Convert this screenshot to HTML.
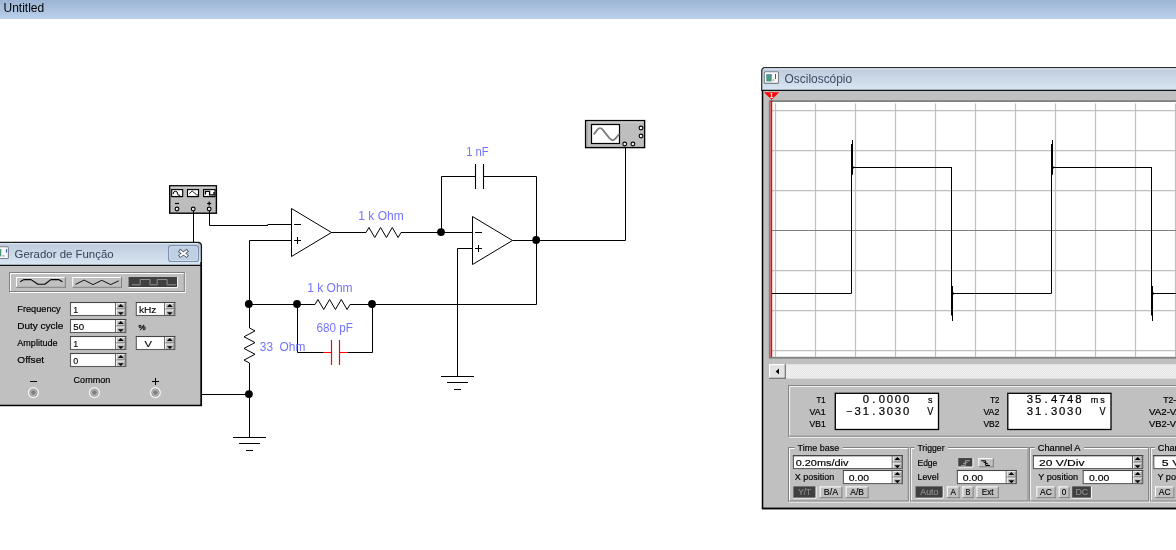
<!DOCTYPE html>
<html><head><meta charset="utf-8"><title>Untitled</title>
<style>html,body{margin:0;padding:0;background:#fff;overflow:hidden}svg{display:block;filter:opacity(0.9999)}text{font-family:"Liberation Sans",sans-serif}</style></head>
<body>
<svg width="1176" height="550" viewBox="0 0 1176 550">
<defs>
<linearGradient id="tb" x1="0" y1="0" x2="0" y2="1"><stop offset="0" stop-color="#9db5d5"/><stop offset="1" stop-color="#b9d1ea"/></linearGradient>
<linearGradient id="wt1" gradientUnits="userSpaceOnUse" x1="0" y1="243" x2="0" y2="265"><stop offset="0" stop-color="#bccbdc"/><stop offset="1" stop-color="#d9e6f3"/></linearGradient>
<linearGradient id="wt2" gradientUnits="userSpaceOnUse" x1="0" y1="68" x2="0" y2="90"><stop offset="0" stop-color="#bccbdc"/><stop offset="1" stop-color="#d9e6f3"/></linearGradient>
<pattern id="dith" width="2" height="2" patternUnits="userSpaceOnUse"><rect width="2" height="2" fill="#e4e4e4"/><rect width="1" height="1" fill="#f2f2f2"/><rect x="1" y="1" width="1" height="1" fill="#f2f2f2"/></pattern>
</defs>
<rect x="0" y="0" width="1176" height="550" fill="#fff" stroke="none" stroke-width="1" />
<rect x="0" y="0" width="1176" height="19" fill="url(#tb)" stroke="none" stroke-width="1" />
<text x="3.5" y="12" font-size="12" fill="#000" text-anchor="start" font-family="Liberation Sans" >Untitled</text>
<g id="circuit" fill="none" stroke="#000" stroke-width="1">
</g>
<rect x="169.7" y="185.8" width="46.7" height="27.4" fill="#bdbdbd" stroke="#000" stroke-width="1.4" />
<line x1="170.5" y1="187.2" x2="215.6" y2="187.2" stroke="#d6d6d6" stroke-width="1" />
<rect x="171.7" y="189.6" width="11.0" height="6.9" fill="#fff" stroke="#000" stroke-width="1.1" />
<line x1="171.7" y1="196.7" x2="182.89999999999998" y2="196.7" stroke="#000" stroke-width="1" />
<rect x="187.5" y="189.6" width="11.0" height="6.9" fill="#fff" stroke="#000" stroke-width="1.1" />
<line x1="187.5" y1="196.7" x2="198.7" y2="196.7" stroke="#000" stroke-width="1" />
<rect x="203.6" y="189.6" width="11.4" height="6.9" fill="#fff" stroke="#000" stroke-width="1.1" />
<line x1="203.6" y1="196.7" x2="214.79999999999998" y2="196.7" stroke="#000" stroke-width="1" />
<path d="M173.2 194 q0 -2.8 2.2 -2.8 q2.2 0 2.2 2.8 q0 1.4 2.6 1.4" stroke="#000" fill="none" stroke-width="1"/>
<path d="M189.3 193.6 l2.9 -2.6 l4.6 4 l1.2 0" stroke="#000" fill="none" stroke-width="0.9"/>
<path d="M205.4 194.6 v-3.3 h4.2 v3.6 h4.4 v-3" stroke="#000" fill="none" stroke-width="1.3"/>
<circle cx="177" cy="209" r="1.9" fill="#e8e8e8" stroke="#000" stroke-width="1.1"/>
<circle cx="193.2" cy="209" r="1.9" fill="#e8e8e8" stroke="#000" stroke-width="1.1"/>
<circle cx="209.2" cy="209" r="1.9" fill="#e8e8e8" stroke="#000" stroke-width="1.1"/>
<line x1="175" y1="203.5" x2="179" y2="203.5" stroke="#000" stroke-width="1.2" />
<line x1="207.2" y1="203.5" x2="211.2" y2="203.5" stroke="#000" stroke-width="1.2" />
<line x1="209.2" y1="201.5" x2="209.2" y2="205.5" stroke="#000" stroke-width="1.2" />
<polyline points="209.5,211 209.5,225.5 268,225.5" fill="none" stroke="#000" stroke-width="1" />
<polyline points="267.5,224.5 291.5,224.5" fill="none" stroke="#000" stroke-width="1" />
<polyline points="193.5,211 193.5,243" fill="none" stroke="#000" stroke-width="1" />
<polyline points="291.5,240.5 249.5,240.5 249.5,328" fill="none" stroke="#000" stroke-width="1" />
<polyline points="249.5,363 249.5,437" fill="none" stroke="#000" stroke-width="1" />
<polyline points="201,394.5 249.5,394.5" fill="none" stroke="#000" stroke-width="1" />
<polyline points="331,232.5 366,232.5" fill="none" stroke="#000" stroke-width="1" />
<polyline points="401,232.5 472.5,232.5" fill="none" stroke="#000" stroke-width="1" />
<polyline points="441.5,232.5 441.5,176.5 476,176.5" fill="none" stroke="#000" stroke-width="1" />
<polyline points="483,176.5 536.5,176.5 536.5,304.5 372,304.5" fill="none" stroke="#000" stroke-width="1" />
<polyline points="512.5,240.5 625.5,240.5 625.5,147" fill="none" stroke="#000" stroke-width="1" />
<polyline points="472.5,248.5 457.5,248.5 457.5,376" fill="none" stroke="#000" stroke-width="1" />
<polyline points="249.5,304.5 315,304.5" fill="none" stroke="#000" stroke-width="1" />
<polyline points="350,304.5 372,304.5" fill="none" stroke="#000" stroke-width="1" />
<polyline points="297.5,304.5 297.5,352.5 323,352.5" fill="none" stroke="#000" stroke-width="1" />
<polyline points="348,352.5 372.5,352.5 372.5,304.5" fill="none" stroke="#000" stroke-width="1" />
<polyline points="291.5,208.5 291.5,256.5 331.5,232.5 291.5,208.5" fill="none" stroke="#000" stroke-width="1" />
<polyline points="472.5,216.5 472.5,264.5 512.5,240.5 472.5,216.5" fill="none" stroke="#000" stroke-width="1" />
<line x1="294" y1="224.5" x2="301" y2="224.5" stroke="#000" stroke-width="1" />
<line x1="294" y1="240.5" x2="301" y2="240.5" stroke="#000" stroke-width="1" />
<line x1="297.5" y1="237" x2="297.5" y2="244" stroke="#000" stroke-width="1" />
<line x1="475" y1="232.5" x2="482" y2="232.5" stroke="#000" stroke-width="1" />
<line x1="475" y1="248.5" x2="482" y2="248.5" stroke="#000" stroke-width="1" />
<line x1="478.5" y1="245" x2="478.5" y2="252" stroke="#000" stroke-width="1" />
<polyline points="366,232.5 368.9166666666667,227.5 374.75,237.5 380.5833333333333,227.5 386.41666666666663,237.5 392.24999999999994,227.5 398.08333333333326,237.5 401,232.5" fill="none" stroke="#000" stroke-width="1" />
<polyline points="315,304.5 317.9166666666667,299.5 323.75,309.5 329.5833333333333,299.5 335.41666666666663,309.5 341.24999999999994,299.5 347.08333333333326,309.5 350,304.5" fill="none" stroke="#000" stroke-width="1" />
<polyline points="249.5,328 255.0,330.9166666666667 244.0,336.75 255.0,342.5833333333333 244.0,348.41666666666663 255.0,354.24999999999994 244.0,360.08333333333326 249.5,363" fill="none" stroke="#000" stroke-width="1" />
<line x1="475.5" y1="164" x2="475.5" y2="189" stroke="#000" stroke-width="1.1" />
<line x1="483.5" y1="164" x2="483.5" y2="189" stroke="#000" stroke-width="1.1" />
<line x1="323" y1="352.5" x2="331.5" y2="352.5" stroke="#f00" stroke-width="1" />
<line x1="339.5" y1="352.5" x2="348" y2="352.5" stroke="#f00" stroke-width="1" />
<line x1="331.5" y1="340" x2="331.5" y2="365" stroke="#f00" stroke-width="1.2" />
<line x1="339.5" y1="340" x2="339.5" y2="365" stroke="#f00" stroke-width="1.2" />
<circle cx="441" cy="232.1" r="3.9" fill="#000" stroke="none" stroke-width="1"/>
<circle cx="536.2" cy="240.0" r="3.9" fill="#000" stroke="none" stroke-width="1"/>
<circle cx="248.8" cy="304.0" r="3.9" fill="#000" stroke="none" stroke-width="1"/>
<circle cx="297" cy="304.0" r="3.9" fill="#000" stroke="none" stroke-width="1"/>
<circle cx="372" cy="304.0" r="3.9" fill="#000" stroke="none" stroke-width="1"/>
<circle cx="248.9" cy="394.1" r="3.9" fill="#000" stroke="none" stroke-width="1"/>
<line x1="441.0" y1="376.5" x2="474.0" y2="376.5" stroke="#000" stroke-width="1" />
<line x1="447.0" y1="382.5" x2="468.0" y2="382.5" stroke="#000" stroke-width="1" />
<line x1="454.0" y1="389.5" x2="461.0" y2="389.5" stroke="#000" stroke-width="1" />
<line x1="233.0" y1="437.5" x2="266.0" y2="437.5" stroke="#000" stroke-width="1" />
<line x1="239.0" y1="443.5" x2="260.0" y2="443.5" stroke="#000" stroke-width="1" />
<line x1="246.0" y1="450.5" x2="253.0" y2="450.5" stroke="#000" stroke-width="1" />
<rect x="585.6" y="120.6" width="59" height="27" fill="#bebebe" stroke="#000" stroke-width="1.4" />
<line x1="586.5" y1="122" x2="643.8" y2="122" stroke="#d8d8d8" stroke-width="1" />
<line x1="587" y1="122" x2="587" y2="146.5" stroke="#a8a8a8" stroke-width="1.4" />
<rect x="591.5" y="124.5" width="28" height="19" fill="#fff" stroke="#000" stroke-width="1.2" />
<path d="M593.8 134.4 L597.4 129.6 Q600 126.6 602.6 129.6 L609.6 138.4 Q612.6 142 615.6 138.4 L619.2 134" stroke="#808080" stroke-width="1.9" fill="none"/>
<circle cx="641" cy="128" r="1.9" fill="#f4f4f4" stroke="#000" stroke-width="1.1"/>
<circle cx="641" cy="136" r="1.9" fill="#f4f4f4" stroke="#000" stroke-width="1.1"/>
<circle cx="624.7" cy="144" r="1.9" fill="#f4f4f4" stroke="#000" stroke-width="1.1"/>
<circle cx="632.9" cy="144" r="1.9" fill="#f4f4f4" stroke="#000" stroke-width="1.1"/>
<text x="358.3" y="220" font-size="11.9" fill="#7272ff" text-anchor="start" font-family="Liberation Sans" textLength="45.4" lengthAdjust="spacingAndGlyphs" xml:space="preserve">1 k Ohm</text>
<text x="466.2" y="156" font-size="11.9" fill="#7272ff" text-anchor="start" font-family="Liberation Sans" textLength="22.4" lengthAdjust="spacingAndGlyphs" xml:space="preserve">1 nF</text>
<text x="307.2" y="291.8" font-size="11.9" fill="#7272ff" text-anchor="start" font-family="Liberation Sans" textLength="45.4" lengthAdjust="spacingAndGlyphs" xml:space="preserve">1 k Ohm</text>
<text x="316.6" y="331.7" font-size="11.9" fill="#7272ff" text-anchor="start" font-family="Liberation Sans" textLength="36.3" lengthAdjust="spacingAndGlyphs" xml:space="preserve">680 pF</text>
<text x="259.8" y="351" font-size="11.9" fill="#7272ff" text-anchor="start" font-family="Liberation Sans" textLength="45.5" lengthAdjust="spacingAndGlyphs" xml:space="preserve">33  Ohm</text>
<path d="M-5 242.5 H198.3 Q201.4 242.7 201.4 246 V405.5 H-5 Z" fill="url(#wt1)" stroke="#1a1a1a" stroke-width="1.3"/>
<line x1="-5" y1="243.6" x2="198" y2="243.6" stroke="#e4eefa" stroke-width="1" />
<rect x="-5" y="265.8" width="205.6" height="139" fill="#c0c0c0" stroke="none" stroke-width="1" />
<line x1="-5" y1="265.3" x2="201" y2="265.3" stroke="#111" stroke-width="1.2" />
<line x1="201.1" y1="262" x2="201.1" y2="406" stroke="#000" stroke-width="1.5" />
<line x1="-5" y1="405.4" x2="202" y2="405.4" stroke="#000" stroke-width="1.2" />
<rect x="-4" y="246.7" width="12.4" height="11.8" fill="#fafafa" stroke="#7d828c" stroke-width="1.1" rx="1"/>
<rect x="-3" y="249" width="4.3" height="7.4" fill="#4a9a80" stroke="none" stroke-width="1" />
<line x1="6.5" y1="249.2" x2="6.5" y2="252.6" stroke="#2b5fa8" stroke-width="1.1" />
<rect x="2.4" y="255.3" width="2.4" height="1.2" fill="#a0a0a0" stroke="none" stroke-width="1" />
<text x="14.6" y="257.7" font-size="11.6" fill="#36425c" text-anchor="start" font-family="Liberation Sans" textLength="99" lengthAdjust="spacingAndGlyphs">Gerador de Função</text>
<rect x="168.6" y="245.6" width="29.8" height="15.9" fill="#bfd0e4" stroke="#7f90ae" stroke-width="1.2" rx="2.5"/>
<rect x="169.7" y="246.7" width="27.6" height="13.7" fill="none" stroke="#d0dcec" stroke-width="0.9" rx="1.8"/>
<path d="M179 250.3 L187.9 256.6 M187.9 250.3 L179 256.6" stroke="#4d5260" stroke-width="3.6" stroke-linecap="butt"/>
<path d="M179.66 250.77 L187.24 256.13 M187.24 250.77 L179.66 256.13" stroke="#fbfbfb" stroke-width="2.0" stroke-linecap="butt"/>
<rect x="10.5" y="273.5" width="174.6" height="19" fill="none" stroke="#fff" stroke-width="1" />
<rect x="9.5" y="272.5" width="174.8" height="19" fill="none" stroke="#808080" stroke-width="1" />
<rect x="16" y="277" width="49.8" height="10.8" fill="#c0c0c0" stroke="none" stroke-width="1" />
<line x1="16" y1="277.5" x2="65.8" y2="277.5" stroke="#fff" stroke-width="1" />
<line x1="16.5" y1="277" x2="16.5" y2="287.8" stroke="#fff" stroke-width="1" />
<line x1="16" y1="287.3" x2="65.8" y2="287.3" stroke="#808080" stroke-width="1" />
<line x1="65.3" y1="277" x2="65.3" y2="287.8" stroke="#808080" stroke-width="1" />
<rect x="72.2" y="277" width="49.8" height="10.8" fill="#c0c0c0" stroke="none" stroke-width="1" />
<line x1="72.2" y1="277.5" x2="122.0" y2="277.5" stroke="#fff" stroke-width="1" />
<line x1="72.7" y1="277" x2="72.7" y2="287.8" stroke="#fff" stroke-width="1" />
<line x1="72.2" y1="287.3" x2="122.0" y2="287.3" stroke="#808080" stroke-width="1" />
<line x1="121.5" y1="277" x2="121.5" y2="287.8" stroke="#808080" stroke-width="1" />
<rect x="128.6" y="277" width="49" height="10.6" fill="#404040" stroke="none" stroke-width="1" />
<line x1="128.6" y1="287.6" x2="177.6" y2="287.6" stroke="#fff" stroke-width="1" />
<line x1="177.6" y1="277" x2="177.6" y2="287.6" stroke="#fff" stroke-width="1" />
<path d="M20.3 281.8 L23.7 279.6 H31 L37.9 284.2 H44.8 L50.9 279.6 H58.6 L62.4 281.8" stroke="#000" stroke-width="1.1" fill="none" stroke-linejoin="round"/>
<path d="M75.4 284.4 L84.2 280.1 L93 284.6 L101.8 280.3 L110.7 284.6 L118.8 280.8" stroke="#000" stroke-width="0.9" fill="none"/>
<path d="M132 284.8 H140.2 V279.5 H150 V284.8 H157.2 V279.5 H167 V284.8 H176" stroke="#909090" stroke-width="1" fill="none"/>
<text x="17.3" y="312.1" font-size="9" fill="#000" text-anchor="start" font-family="Liberation Sans" textLength="43.4" lengthAdjust="spacingAndGlyphs" stroke="#000" stroke-width="0.18">Frequency</text>
<rect x="70.5" y="302.5" width="55.3" height="13" fill="#fff" stroke="none" stroke-width="1" />
<rect x="115.6" y="302.5" width="10.2" height="13" fill="#c0c0c0" stroke="none" stroke-width="1" />
<line x1="115.6" y1="302.5" x2="115.6" y2="315.5" stroke="#606060" stroke-width="1" />
<line x1="115.6" y1="309.0" x2="125.8" y2="309.0" stroke="#606060" stroke-width="1" />
<line x1="116.19999999999999" y1="303.5" x2="125.2" y2="303.5" stroke="#f4f4f4" stroke-width="1" />
<line x1="116.6" y1="303.1" x2="116.6" y2="308.6" stroke="#f4f4f4" stroke-width="1" />
<line x1="124.8" y1="303.5" x2="124.8" y2="309.0" stroke="#8a8a8a" stroke-width="0.8" />
<path d="M117.89999999999998 306.9 L120.79999999999998 304.0 L123.69999999999999 306.9 Z" fill="#000"/>
<line x1="116.19999999999999" y1="310.0" x2="125.2" y2="310.0" stroke="#f4f4f4" stroke-width="1" />
<line x1="116.6" y1="309.6" x2="116.6" y2="315.1" stroke="#f4f4f4" stroke-width="1" />
<line x1="124.8" y1="310.0" x2="124.8" y2="315.5" stroke="#8a8a8a" stroke-width="0.8" />
<path d="M117.89999999999998 312.2 L120.79999999999998 315.1 L123.69999999999999 312.2 Z" fill="#000"/>
<rect x="70.5" y="302.5" width="55.3" height="13" fill="none" stroke="#5c5c5c" stroke-width="1.1" />
<line x1="70.0" y1="302.5" x2="126.3" y2="302.5" stroke="#444" stroke-width="1.2" />
<text x="73.3" y="312.8" font-size="8.9" fill="#000" text-anchor="start" font-family="Liberation Sans"  stroke="#000" stroke-width="0.12">1</text>
<rect x="136.3" y="302.5" width="38.5" height="13" fill="#fff" stroke="none" stroke-width="1" />
<rect x="164.60000000000002" y="302.5" width="10.2" height="13" fill="#c0c0c0" stroke="none" stroke-width="1" />
<line x1="164.60000000000002" y1="302.5" x2="164.60000000000002" y2="315.5" stroke="#606060" stroke-width="1" />
<line x1="164.60000000000002" y1="309.0" x2="174.8" y2="309.0" stroke="#606060" stroke-width="1" />
<line x1="165.20000000000002" y1="303.5" x2="174.20000000000002" y2="303.5" stroke="#f4f4f4" stroke-width="1" />
<line x1="165.60000000000002" y1="303.1" x2="165.60000000000002" y2="308.6" stroke="#f4f4f4" stroke-width="1" />
<line x1="173.8" y1="303.5" x2="173.8" y2="309.0" stroke="#8a8a8a" stroke-width="0.8" />
<path d="M166.9 306.9 L169.8 304.0 L172.70000000000002 306.9 Z" fill="#000"/>
<line x1="165.20000000000002" y1="310.0" x2="174.20000000000002" y2="310.0" stroke="#f4f4f4" stroke-width="1" />
<line x1="165.60000000000002" y1="309.6" x2="165.60000000000002" y2="315.1" stroke="#f4f4f4" stroke-width="1" />
<line x1="173.8" y1="310.0" x2="173.8" y2="315.5" stroke="#8a8a8a" stroke-width="0.8" />
<path d="M166.9 312.2 L169.8 315.1 L172.70000000000002 312.2 Z" fill="#000"/>
<rect x="136.3" y="302.5" width="38.5" height="13" fill="none" stroke="#5c5c5c" stroke-width="1.1" />
<line x1="135.8" y1="302.5" x2="175.3" y2="302.5" stroke="#444" stroke-width="1.2" />
<text x="138.9" y="312.8" font-size="8.9" fill="#000" text-anchor="start" font-family="Liberation Sans" textLength="17.5" lengthAdjust="spacingAndGlyphs" stroke="#000" stroke-width="0.12">kHz</text>
<text x="17.3" y="329.1" font-size="9" fill="#000" text-anchor="start" font-family="Liberation Sans" textLength="46.1" lengthAdjust="spacingAndGlyphs" stroke="#000" stroke-width="0.18">Duty cycle</text>
<rect x="70.5" y="319.5" width="55.3" height="13" fill="#fff" stroke="none" stroke-width="1" />
<rect x="115.6" y="319.5" width="10.2" height="13" fill="#c0c0c0" stroke="none" stroke-width="1" />
<line x1="115.6" y1="319.5" x2="115.6" y2="332.5" stroke="#606060" stroke-width="1" />
<line x1="115.6" y1="326.0" x2="125.8" y2="326.0" stroke="#606060" stroke-width="1" />
<line x1="116.19999999999999" y1="320.5" x2="125.2" y2="320.5" stroke="#f4f4f4" stroke-width="1" />
<line x1="116.6" y1="320.1" x2="116.6" y2="325.6" stroke="#f4f4f4" stroke-width="1" />
<line x1="124.8" y1="320.5" x2="124.8" y2="326.0" stroke="#8a8a8a" stroke-width="0.8" />
<path d="M117.89999999999998 323.9 L120.79999999999998 321.0 L123.69999999999999 323.9 Z" fill="#000"/>
<line x1="116.19999999999999" y1="327.0" x2="125.2" y2="327.0" stroke="#f4f4f4" stroke-width="1" />
<line x1="116.6" y1="326.6" x2="116.6" y2="332.1" stroke="#f4f4f4" stroke-width="1" />
<line x1="124.8" y1="327.0" x2="124.8" y2="332.5" stroke="#8a8a8a" stroke-width="0.8" />
<path d="M117.89999999999998 329.2 L120.79999999999998 332.1 L123.69999999999999 329.2 Z" fill="#000"/>
<rect x="70.5" y="319.5" width="55.3" height="13" fill="none" stroke="#5c5c5c" stroke-width="1.1" />
<line x1="70.0" y1="319.5" x2="126.3" y2="319.5" stroke="#444" stroke-width="1.2" />
<text x="73.3" y="329.8" font-size="8.9" fill="#000" text-anchor="start" font-family="Liberation Sans" textLength="10.8" lengthAdjust="spacingAndGlyphs" stroke="#000" stroke-width="0.12">50</text>
<text x="17.3" y="346.1" font-size="9" fill="#000" text-anchor="start" font-family="Liberation Sans" textLength="40.2" lengthAdjust="spacingAndGlyphs" stroke="#000" stroke-width="0.18">Amplitude</text>
<rect x="70.5" y="336.5" width="55.3" height="13" fill="#fff" stroke="none" stroke-width="1" />
<rect x="115.6" y="336.5" width="10.2" height="13" fill="#c0c0c0" stroke="none" stroke-width="1" />
<line x1="115.6" y1="336.5" x2="115.6" y2="349.5" stroke="#606060" stroke-width="1" />
<line x1="115.6" y1="343.0" x2="125.8" y2="343.0" stroke="#606060" stroke-width="1" />
<line x1="116.19999999999999" y1="337.5" x2="125.2" y2="337.5" stroke="#f4f4f4" stroke-width="1" />
<line x1="116.6" y1="337.1" x2="116.6" y2="342.6" stroke="#f4f4f4" stroke-width="1" />
<line x1="124.8" y1="337.5" x2="124.8" y2="343.0" stroke="#8a8a8a" stroke-width="0.8" />
<path d="M117.89999999999998 340.9 L120.79999999999998 338.0 L123.69999999999999 340.9 Z" fill="#000"/>
<line x1="116.19999999999999" y1="344.0" x2="125.2" y2="344.0" stroke="#f4f4f4" stroke-width="1" />
<line x1="116.6" y1="343.6" x2="116.6" y2="349.1" stroke="#f4f4f4" stroke-width="1" />
<line x1="124.8" y1="344.0" x2="124.8" y2="349.5" stroke="#8a8a8a" stroke-width="0.8" />
<path d="M117.89999999999998 346.2 L120.79999999999998 349.1 L123.69999999999999 346.2 Z" fill="#000"/>
<rect x="70.5" y="336.5" width="55.3" height="13" fill="none" stroke="#5c5c5c" stroke-width="1.1" />
<line x1="70.0" y1="336.5" x2="126.3" y2="336.5" stroke="#444" stroke-width="1.2" />
<text x="73.3" y="346.8" font-size="8.9" fill="#000" text-anchor="start" font-family="Liberation Sans"  stroke="#000" stroke-width="0.12">1</text>
<rect x="136.3" y="336.5" width="38.5" height="13" fill="#fff" stroke="none" stroke-width="1" />
<rect x="164.60000000000002" y="336.5" width="10.2" height="13" fill="#c0c0c0" stroke="none" stroke-width="1" />
<line x1="164.60000000000002" y1="336.5" x2="164.60000000000002" y2="349.5" stroke="#606060" stroke-width="1" />
<line x1="164.60000000000002" y1="343.0" x2="174.8" y2="343.0" stroke="#606060" stroke-width="1" />
<line x1="165.20000000000002" y1="337.5" x2="174.20000000000002" y2="337.5" stroke="#f4f4f4" stroke-width="1" />
<line x1="165.60000000000002" y1="337.1" x2="165.60000000000002" y2="342.6" stroke="#f4f4f4" stroke-width="1" />
<line x1="173.8" y1="337.5" x2="173.8" y2="343.0" stroke="#8a8a8a" stroke-width="0.8" />
<path d="M166.9 340.9 L169.8 338.0 L172.70000000000002 340.9 Z" fill="#000"/>
<line x1="165.20000000000002" y1="344.0" x2="174.20000000000002" y2="344.0" stroke="#f4f4f4" stroke-width="1" />
<line x1="165.60000000000002" y1="343.6" x2="165.60000000000002" y2="349.1" stroke="#f4f4f4" stroke-width="1" />
<line x1="173.8" y1="344.0" x2="173.8" y2="349.5" stroke="#8a8a8a" stroke-width="0.8" />
<path d="M166.9 346.2 L169.8 349.1 L172.70000000000002 346.2 Z" fill="#000"/>
<rect x="136.3" y="336.5" width="38.5" height="13" fill="none" stroke="#5c5c5c" stroke-width="1.1" />
<line x1="135.8" y1="336.5" x2="175.3" y2="336.5" stroke="#444" stroke-width="1.2" />
<text x="144.5" y="346.8" font-size="8.9" fill="#000" text-anchor="start" font-family="Liberation Sans" textLength="7.5" lengthAdjust="spacingAndGlyphs" stroke="#000" stroke-width="0.12">V</text>
<text x="17.3" y="363.1" font-size="9" fill="#000" text-anchor="start" font-family="Liberation Sans" textLength="26.8" lengthAdjust="spacingAndGlyphs" stroke="#000" stroke-width="0.18">Offset</text>
<rect x="70.5" y="353.5" width="55.3" height="13" fill="#fff" stroke="none" stroke-width="1" />
<rect x="115.6" y="353.5" width="10.2" height="13" fill="#c0c0c0" stroke="none" stroke-width="1" />
<line x1="115.6" y1="353.5" x2="115.6" y2="366.5" stroke="#606060" stroke-width="1" />
<line x1="115.6" y1="360.0" x2="125.8" y2="360.0" stroke="#606060" stroke-width="1" />
<line x1="116.19999999999999" y1="354.5" x2="125.2" y2="354.5" stroke="#f4f4f4" stroke-width="1" />
<line x1="116.6" y1="354.1" x2="116.6" y2="359.6" stroke="#f4f4f4" stroke-width="1" />
<line x1="124.8" y1="354.5" x2="124.8" y2="360.0" stroke="#8a8a8a" stroke-width="0.8" />
<path d="M117.89999999999998 357.9 L120.79999999999998 355.0 L123.69999999999999 357.9 Z" fill="#000"/>
<line x1="116.19999999999999" y1="361.0" x2="125.2" y2="361.0" stroke="#f4f4f4" stroke-width="1" />
<line x1="116.6" y1="360.6" x2="116.6" y2="366.1" stroke="#f4f4f4" stroke-width="1" />
<line x1="124.8" y1="361.0" x2="124.8" y2="366.5" stroke="#8a8a8a" stroke-width="0.8" />
<path d="M117.89999999999998 363.2 L120.79999999999998 366.1 L123.69999999999999 363.2 Z" fill="#000"/>
<rect x="70.5" y="353.5" width="55.3" height="13" fill="none" stroke="#5c5c5c" stroke-width="1.1" />
<line x1="70.0" y1="353.5" x2="126.3" y2="353.5" stroke="#444" stroke-width="1.2" />
<text x="73.3" y="363.8" font-size="8.9" fill="#000" text-anchor="start" font-family="Liberation Sans"  stroke="#000" stroke-width="0.12">0</text>
<text x="138.6" y="330" font-size="8" fill="#000" text-anchor="start" font-family="Liberation Sans" stroke="#000" stroke-width="0.3">%</text>
<circle cx="33.4" cy="392.6" r="5.0" fill="#c8c8c8" stroke="#f4f4f4" stroke-width="1.2"/>
<circle cx="33.4" cy="392.6" r="3.6" fill="none" stroke="#909090" stroke-width="0.8"/>
<circle cx="33.4" cy="392.6" r="2.4" fill="#808080" stroke="none" stroke-width="1"/>
<circle cx="94.4" cy="392.6" r="5.0" fill="#c8c8c8" stroke="#f4f4f4" stroke-width="1.2"/>
<circle cx="94.4" cy="392.6" r="3.6" fill="none" stroke="#909090" stroke-width="0.8"/>
<circle cx="94.4" cy="392.6" r="2.4" fill="#808080" stroke="none" stroke-width="1"/>
<circle cx="155.4" cy="392.6" r="5.0" fill="#c8c8c8" stroke="#f4f4f4" stroke-width="1.2"/>
<circle cx="155.4" cy="392.6" r="3.6" fill="none" stroke="#909090" stroke-width="0.8"/>
<circle cx="155.4" cy="392.6" r="2.4" fill="#808080" stroke="none" stroke-width="1"/>
<line x1="30" y1="381.5" x2="37" y2="381.5" stroke="#000" stroke-width="1" />
<line x1="152" y1="381.5" x2="159" y2="381.5" stroke="#000" stroke-width="1" />
<line x1="155.5" y1="378" x2="155.5" y2="385" stroke="#000" stroke-width="1" />
<text x="73.6" y="383" font-size="9" fill="#000" text-anchor="start" font-family="Liberation Sans" textLength="36.6" lengthAdjust="spacingAndGlyphs" stroke="#000" stroke-width="0.18">Common</text>
<path d="M762.5 80 V508.5 H1180 V80 Z" fill="#c0c0c0" stroke="#1a1a1a" stroke-width="1.3"/>
<path d="M761.7 90.5 V71 Q761.7 67.7 765 67.7 H1180 V90.5 Z" fill="url(#wt2)" stroke="#2a2a2a" stroke-width="1.2"/>
<line x1="764" y1="68.9" x2="1180" y2="68.9" stroke="#e8f0fa" stroke-width="1" />
<line x1="762" y1="90.3" x2="1180" y2="90.3" stroke="#111" stroke-width="1.2" />
<line x1="762.5" y1="91" x2="762.5" y2="509" stroke="#000" stroke-width="1.3" />
<line x1="762" y1="508.5" x2="1180" y2="508.5" stroke="#000" stroke-width="1.3" />
<rect x="764.3" y="71.8" width="14.2" height="11.6" fill="#fafafa" stroke="#7d828c" stroke-width="1.1" rx="1"/>
<rect x="766.3" y="74.3" width="5.4" height="7.2" fill="#4a9a80" stroke="none" stroke-width="1" />
<rect x="766.3" y="74.3" width="5.4" height="2" fill="#5a8fb0" stroke="none" stroke-width="1" />
<line x1="775.5" y1="74" x2="775.5" y2="79" stroke="#2b5fa8" stroke-width="1" />
<rect x="772.5" y="79.5" width="2" height="1.2" fill="#999" stroke="none" stroke-width="1" />
<text x="784.6" y="82.6" font-size="12" fill="#3d4a63" text-anchor="start" font-family="Liberation Sans" textLength="67.5" lengthAdjust="spacingAndGlyphs">Osciloscópio</text>
<rect x="768.8" y="100.2" width="420" height="258.4" fill="#808080" stroke="none" stroke-width="1" />
<rect x="770.6" y="102" width="420" height="254.8" fill="#fff" stroke="none" stroke-width="1" />
<g stroke="#c2c2c2" stroke-width="1.4">
<line x1="775.5" y1="103.4" x2="775.5" y2="357" stroke="#c0c0c0" stroke-width="1.25" />
<line x1="815.5" y1="103.4" x2="815.5" y2="357" stroke="#c0c0c0" stroke-width="1.25" />
<line x1="855.5" y1="103.4" x2="855.5" y2="357" stroke="#c0c0c0" stroke-width="1.25" />
<line x1="895.5" y1="103.4" x2="895.5" y2="357" stroke="#c0c0c0" stroke-width="1.25" />
<line x1="935.5" y1="103.4" x2="935.5" y2="357" stroke="#c0c0c0" stroke-width="1.25" />
<line x1="975.5" y1="103.4" x2="975.5" y2="357" stroke="#c0c0c0" stroke-width="1.25" />
<line x1="1015.5" y1="103.4" x2="1015.5" y2="357" stroke="#c0c0c0" stroke-width="1.25" />
<line x1="1055.5" y1="103.4" x2="1055.5" y2="357" stroke="#c0c0c0" stroke-width="1.25" />
<line x1="1095.5" y1="103.4" x2="1095.5" y2="357" stroke="#c0c0c0" stroke-width="1.25" />
<line x1="1135.5" y1="103.4" x2="1135.5" y2="357" stroke="#c0c0c0" stroke-width="1.25" />
<line x1="1175.5" y1="103.4" x2="1175.5" y2="357" stroke="#c0c0c0" stroke-width="1.25" />
<line x1="771" y1="110.5" x2="1176" y2="110.5" stroke="#c0c0c0" stroke-width="1.25" />
<line x1="771" y1="150.5" x2="1176" y2="150.5" stroke="#c0c0c0" stroke-width="1.25" />
<line x1="771" y1="190.5" x2="1176" y2="190.5" stroke="#c0c0c0" stroke-width="1.25" />
<line x1="771" y1="270.5" x2="1176" y2="270.5" stroke="#c0c0c0" stroke-width="1.25" />
<line x1="771" y1="310.5" x2="1176" y2="310.5" stroke="#c0c0c0" stroke-width="1.25" />
<line x1="771" y1="350.5" x2="1176" y2="350.5" stroke="#c0c0c0" stroke-width="1.25" />
</g>
<line x1="771" y1="230.5" x2="1176" y2="230.5" stroke="#808080" stroke-width="1" />
<line x1="771.4" y1="100.5" x2="771.4" y2="357" stroke="#f00" stroke-width="1.6" />
<path d="M764 92.3 H779.2 L771.6 99.8 Z" fill="#f00"/>
<text x="771.6" y="98" font-size="6.5" fill="#fff" text-anchor="middle" font-family="Liberation Sans" font-weight="bold">1</text>
<path d="M772 293.5 H851.5 V144 M852.5 140 V146 M851.5 167.5 H951.5 M951.5 167 V287 M952.5 314 V321 M951.5 293.5 H1051.5 V144 M1052.5 140 V146 M1051.5 167.5 H1151.5 M1151.5 167 V287 M1152.5 314 V321 M1151.5 293.5 H1180" stroke="#000" stroke-width="1" fill="none"/>
<rect x="851" y="144.8" width="2" height="30" fill="#000" stroke="none" stroke-width="1" />
<rect x="852.6" y="166.4" width="1.2" height="2.2" fill="#000" stroke="none" stroke-width="1" />
<rect x="1051" y="144.8" width="2" height="30" fill="#000" stroke="none" stroke-width="1" />
<rect x="1052.6" y="166.4" width="1.2" height="2.2" fill="#000" stroke="none" stroke-width="1" />
<rect x="951" y="286" width="2" height="29.5" fill="#000" stroke="none" stroke-width="1" />
<rect x="952.6" y="292.4" width="1.2" height="2.2" fill="#000" stroke="none" stroke-width="1" />
<rect x="1151" y="286" width="2" height="29.5" fill="#000" stroke="none" stroke-width="1" />
<rect x="1152.6" y="292.4" width="1.2" height="2.2" fill="#000" stroke="none" stroke-width="1" />
<rect x="769" y="364.2" width="420" height="14.4" fill="url(#dith)" stroke="none" stroke-width="1" />
<rect x="769" y="364.2" width="16.6" height="14.4" fill="#e2e2e2" stroke="none" stroke-width="1" />
<line x1="769" y1="364.6" x2="785.6" y2="364.6" stroke="#fff" stroke-width="1" />
<line x1="769.5" y1="364.2" x2="769.5" y2="378.6" stroke="#fff" stroke-width="1" />
<line x1="769" y1="378.3" x2="786" y2="378.3" stroke="#707070" stroke-width="1.2" />
<line x1="785.3" y1="364.2" x2="785.3" y2="378.8" stroke="#707070" stroke-width="1.2" />
<path d="M779 368.5 V374.3 L775.6 371.4 Z" fill="#000"/>
<rect x="789.6" y="386.6" width="420" height="50.6" fill="none" stroke="#fff" stroke-width="1" />
<rect x="788.6" y="385.6" width="420" height="50.6" fill="none" stroke="#808080" stroke-width="1" />
<rect x="835.3" y="393.3" width="103.2" height="36.2" fill="#fff" stroke="#000" stroke-width="1.3" />
<rect x="1007.8" y="393.3" width="103.2" height="36.2" fill="#fff" stroke="#000" stroke-width="1.3" />
<text x="816.5" y="402.8" font-size="9.2" fill="#000" text-anchor="start" font-family="Liberation Sans" textLength="9.1" lengthAdjust="spacingAndGlyphs" stroke="#000" stroke-width="0.22" xml:space="preserve">T1</text>
<text x="990.3" y="402.8" font-size="9.2" fill="#000" text-anchor="start" font-family="Liberation Sans" textLength="9.1" lengthAdjust="spacingAndGlyphs" stroke="#000" stroke-width="0.22" xml:space="preserve">T2</text>
<text x="1163.3" y="402.8" font-size="9.2" fill="#000" text-anchor="start" font-family="Liberation Sans" textLength="23" lengthAdjust="spacingAndGlyphs" stroke="#000" stroke-width="0.22" xml:space="preserve">T2-T1</text>
<text x="809.6" y="415.0" font-size="9.2" fill="#000" text-anchor="start" font-family="Liberation Sans" textLength="16" lengthAdjust="spacingAndGlyphs" stroke="#000" stroke-width="0.22" xml:space="preserve">VA1</text>
<text x="983.4" y="415.0" font-size="9.2" fill="#000" text-anchor="start" font-family="Liberation Sans" textLength="16" lengthAdjust="spacingAndGlyphs" stroke="#000" stroke-width="0.22" xml:space="preserve">VA2</text>
<text x="1149" y="415.0" font-size="9.2" fill="#000" text-anchor="start" font-family="Liberation Sans" textLength="38.5" lengthAdjust="spacingAndGlyphs" stroke="#000" stroke-width="0.22" xml:space="preserve">VA2-VA1</text>
<text x="809.6" y="427.2" font-size="9.2" fill="#000" text-anchor="start" font-family="Liberation Sans" textLength="16" lengthAdjust="spacingAndGlyphs" stroke="#000" stroke-width="0.22" xml:space="preserve">VB1</text>
<text x="983.4" y="427.2" font-size="9.2" fill="#000" text-anchor="start" font-family="Liberation Sans" textLength="16" lengthAdjust="spacingAndGlyphs" stroke="#000" stroke-width="0.22" xml:space="preserve">VB2</text>
<text x="1149" y="427.2" font-size="9.2" fill="#000" text-anchor="start" font-family="Liberation Sans" textLength="38.5" lengthAdjust="spacingAndGlyphs" stroke="#000" stroke-width="0.22" xml:space="preserve">VB2-VB1</text>
<text transform="translate(865.8,403.1) scale(1.12,1)" font-size="10.1" fill="#000" stroke="#000" stroke-width="0.2" text-anchor="middle" font-family="Liberation Mono">0</text>
<text transform="translate(873.85,403.1) scale(1.12,1)" font-size="10.1" fill="#000" stroke="#000" stroke-width="0.2" text-anchor="middle" font-family="Liberation Mono">.</text>
<text transform="translate(881.9,403.1) scale(1.12,1)" font-size="10.1" fill="#000" stroke="#000" stroke-width="0.2" text-anchor="middle" font-family="Liberation Mono">0</text>
<text transform="translate(889.95,403.1) scale(1.12,1)" font-size="10.1" fill="#000" stroke="#000" stroke-width="0.2" text-anchor="middle" font-family="Liberation Mono">0</text>
<text transform="translate(898.0,403.1) scale(1.12,1)" font-size="10.1" fill="#000" stroke="#000" stroke-width="0.2" text-anchor="middle" font-family="Liberation Mono">0</text>
<text transform="translate(906.05,403.1) scale(1.12,1)" font-size="10.1" fill="#000" stroke="#000" stroke-width="0.2" text-anchor="middle" font-family="Liberation Mono">0</text>
<text transform="translate(930.2,403.1) scale(1.0,1)" font-size="9.0" fill="#000" stroke="#000" stroke-width="0.2" text-anchor="middle" font-family="Liberation Mono">s</text>
<text transform="translate(849.7,415) scale(1.05,1)" font-size="10.1" fill="#000" stroke="#000" stroke-width="0.2" text-anchor="middle" font-family="Liberation Mono">−</text>
<text transform="translate(857.75,415) scale(1.12,1)" font-size="10.1" fill="#000" stroke="#000" stroke-width="0.2" text-anchor="middle" font-family="Liberation Mono">3</text>
<text transform="translate(865.8,415) scale(1.12,1)" font-size="10.1" fill="#000" stroke="#000" stroke-width="0.2" text-anchor="middle" font-family="Liberation Mono">1</text>
<text transform="translate(873.85,415) scale(1.12,1)" font-size="10.1" fill="#000" stroke="#000" stroke-width="0.2" text-anchor="middle" font-family="Liberation Mono">.</text>
<text transform="translate(881.9,415) scale(1.12,1)" font-size="10.1" fill="#000" stroke="#000" stroke-width="0.2" text-anchor="middle" font-family="Liberation Mono">3</text>
<text transform="translate(889.95,415) scale(1.12,1)" font-size="10.1" fill="#000" stroke="#000" stroke-width="0.2" text-anchor="middle" font-family="Liberation Mono">0</text>
<text transform="translate(898.0,415) scale(1.12,1)" font-size="10.1" fill="#000" stroke="#000" stroke-width="0.2" text-anchor="middle" font-family="Liberation Mono">3</text>
<text transform="translate(906.05,415) scale(1.12,1)" font-size="10.1" fill="#000" stroke="#000" stroke-width="0.2" text-anchor="middle" font-family="Liberation Mono">0</text>
<text transform="translate(930.2,415) scale(0.85,1)" font-size="10.8" fill="#000" stroke="#000" stroke-width="0.2" text-anchor="middle" font-family="Liberation Mono">V</text>
<text transform="translate(1030.0,403.1) scale(1.12,1)" font-size="10.1" fill="#000" stroke="#000" stroke-width="0.2" text-anchor="middle" font-family="Liberation Mono">3</text>
<text transform="translate(1038.05,403.1) scale(1.12,1)" font-size="10.1" fill="#000" stroke="#000" stroke-width="0.2" text-anchor="middle" font-family="Liberation Mono">5</text>
<text transform="translate(1046.1,403.1) scale(1.12,1)" font-size="10.1" fill="#000" stroke="#000" stroke-width="0.2" text-anchor="middle" font-family="Liberation Mono">.</text>
<text transform="translate(1054.15,403.1) scale(1.12,1)" font-size="10.1" fill="#000" stroke="#000" stroke-width="0.2" text-anchor="middle" font-family="Liberation Mono">4</text>
<text transform="translate(1062.2,403.1) scale(1.12,1)" font-size="10.1" fill="#000" stroke="#000" stroke-width="0.2" text-anchor="middle" font-family="Liberation Mono">7</text>
<text transform="translate(1070.25,403.1) scale(1.12,1)" font-size="10.1" fill="#000" stroke="#000" stroke-width="0.2" text-anchor="middle" font-family="Liberation Mono">4</text>
<text transform="translate(1078.3,403.1) scale(1.12,1)" font-size="10.1" fill="#000" stroke="#000" stroke-width="0.2" text-anchor="middle" font-family="Liberation Mono">8</text>
<text transform="translate(1094.4,403.1) scale(1.0,1)" font-size="9.0" fill="#000" stroke="#000" stroke-width="0.2" text-anchor="middle" font-family="Liberation Mono">m</text>
<text transform="translate(1102.45,403.1) scale(1.0,1)" font-size="9.0" fill="#000" stroke="#000" stroke-width="0.2" text-anchor="middle" font-family="Liberation Mono">s</text>
<text transform="translate(1030.0,415) scale(1.12,1)" font-size="10.1" fill="#000" stroke="#000" stroke-width="0.2" text-anchor="middle" font-family="Liberation Mono">3</text>
<text transform="translate(1038.05,415) scale(1.12,1)" font-size="10.1" fill="#000" stroke="#000" stroke-width="0.2" text-anchor="middle" font-family="Liberation Mono">1</text>
<text transform="translate(1046.1,415) scale(1.12,1)" font-size="10.1" fill="#000" stroke="#000" stroke-width="0.2" text-anchor="middle" font-family="Liberation Mono">.</text>
<text transform="translate(1054.15,415) scale(1.12,1)" font-size="10.1" fill="#000" stroke="#000" stroke-width="0.2" text-anchor="middle" font-family="Liberation Mono">3</text>
<text transform="translate(1062.2,415) scale(1.12,1)" font-size="10.1" fill="#000" stroke="#000" stroke-width="0.2" text-anchor="middle" font-family="Liberation Mono">0</text>
<text transform="translate(1070.25,415) scale(1.12,1)" font-size="10.1" fill="#000" stroke="#000" stroke-width="0.2" text-anchor="middle" font-family="Liberation Mono">3</text>
<text transform="translate(1078.3,415) scale(1.12,1)" font-size="10.1" fill="#000" stroke="#000" stroke-width="0.2" text-anchor="middle" font-family="Liberation Mono">0</text>
<text transform="translate(1102.45,415) scale(0.85,1)" font-size="10.8" fill="#000" stroke="#000" stroke-width="0.2" text-anchor="middle" font-family="Liberation Mono">V</text>
<rect x="789.5" y="448.5" width="119.8" height="53.5" fill="none" stroke="#fff" stroke-width="1" />
<rect x="788.5" y="447.5" width="119.8" height="53.5" fill="none" stroke="#808080" stroke-width="1" />
<rect x="794.6" y="444.5" width="48.1" height="6" fill="#c0c0c0" stroke="none" stroke-width="1" />
<text x="797.6" y="450.8" font-size="8.9" fill="#000" text-anchor="start" font-family="Liberation Sans" textLength="41.6" lengthAdjust="spacingAndGlyphs" stroke="#000" stroke-width="0.16" xml:space="preserve">Time base</text>
<rect x="911.3" y="448.5" width="117.8" height="53.5" fill="none" stroke="#fff" stroke-width="1" />
<rect x="910.3" y="447.5" width="117.8" height="53.5" fill="none" stroke="#808080" stroke-width="1" />
<rect x="914.4" y="444.5" width="33.7" height="6" fill="#c0c0c0" stroke="none" stroke-width="1" />
<text x="917.4" y="450.8" font-size="8.9" fill="#000" text-anchor="start" font-family="Liberation Sans" textLength="27.2" lengthAdjust="spacingAndGlyphs" stroke="#000" stroke-width="0.16" xml:space="preserve">Trigger</text>
<rect x="1030.6" y="448.5" width="119" height="53.5" fill="none" stroke="#fff" stroke-width="1" />
<rect x="1029.6" y="447.5" width="119" height="53.5" fill="none" stroke="#808080" stroke-width="1" />
<rect x="1034.7" y="444.5" width="49.3" height="6" fill="#c0c0c0" stroke="none" stroke-width="1" />
<text x="1037.7" y="450.8" font-size="8.9" fill="#000" text-anchor="start" font-family="Liberation Sans" textLength="42.8" lengthAdjust="spacingAndGlyphs" stroke="#000" stroke-width="0.16" xml:space="preserve">Channel A</text>
<rect x="1151.3" y="448.5" width="60" height="53.5" fill="none" stroke="#fff" stroke-width="1" />
<rect x="1150.3" y="447.5" width="60" height="53.5" fill="none" stroke="#808080" stroke-width="1" />
<rect x="1154.8" y="444.5" width="49.3" height="6" fill="#c0c0c0" stroke="none" stroke-width="1" />
<text x="1157.8" y="450.8" font-size="8.9" fill="#000" text-anchor="start" font-family="Liberation Sans" textLength="42.8" lengthAdjust="spacingAndGlyphs" stroke="#000" stroke-width="0.16" xml:space="preserve">Channel B</text>
<rect x="793.4" y="455.6" width="109" height="13" fill="#fff" stroke="none" stroke-width="1" />
<rect x="892.1999999999999" y="455.6" width="10.2" height="13" fill="#c0c0c0" stroke="none" stroke-width="1" />
<line x1="892.1999999999999" y1="455.6" x2="892.1999999999999" y2="468.6" stroke="#606060" stroke-width="1" />
<line x1="892.1999999999999" y1="462.1" x2="902.4" y2="462.1" stroke="#606060" stroke-width="1" />
<line x1="892.8" y1="456.6" x2="901.8" y2="456.6" stroke="#f4f4f4" stroke-width="1" />
<line x1="893.1999999999999" y1="456.20000000000005" x2="893.1999999999999" y2="461.70000000000005" stroke="#f4f4f4" stroke-width="1" />
<line x1="901.4" y1="456.6" x2="901.4" y2="462.1" stroke="#8a8a8a" stroke-width="0.8" />
<path d="M894.5 460.0 L897.4 457.1 L900.3 460.0 Z" fill="#000"/>
<line x1="892.8" y1="463.1" x2="901.8" y2="463.1" stroke="#f4f4f4" stroke-width="1" />
<line x1="893.1999999999999" y1="462.70000000000005" x2="893.1999999999999" y2="468.20000000000005" stroke="#f4f4f4" stroke-width="1" />
<line x1="901.4" y1="463.1" x2="901.4" y2="468.6" stroke="#8a8a8a" stroke-width="0.8" />
<path d="M894.5 465.3 L897.4 468.20000000000005 L900.3 465.3 Z" fill="#000"/>
<rect x="793.4" y="455.6" width="109" height="13" fill="none" stroke="#5c5c5c" stroke-width="1.1" />
<line x1="792.9" y1="455.6" x2="902.9" y2="455.6" stroke="#444" stroke-width="1.2" />
<text x="795.7" y="465.6" font-size="8.9" fill="#000" text-anchor="start" font-family="Liberation Sans" textLength="52.8" lengthAdjust="spacingAndGlyphs" stroke="#000" stroke-width="0.16" xml:space="preserve">0.20ms/div</text>
<text x="794.8" y="480" font-size="8.9" fill="#000" text-anchor="start" font-family="Liberation Sans" textLength="39.4" lengthAdjust="spacingAndGlyphs" stroke="#000" stroke-width="0.16" xml:space="preserve">X position</text>
<rect x="843.4" y="470.5" width="59" height="13.1" fill="#fff" stroke="none" stroke-width="1" />
<rect x="892.1999999999999" y="470.5" width="10.2" height="13.1" fill="#c0c0c0" stroke="none" stroke-width="1" />
<line x1="892.1999999999999" y1="470.5" x2="892.1999999999999" y2="483.6" stroke="#606060" stroke-width="1" />
<line x1="892.1999999999999" y1="477.05" x2="902.4" y2="477.05" stroke="#606060" stroke-width="1" />
<line x1="892.8" y1="471.5" x2="901.8" y2="471.5" stroke="#f4f4f4" stroke-width="1" />
<line x1="893.1999999999999" y1="471.1" x2="893.1999999999999" y2="476.65000000000003" stroke="#f4f4f4" stroke-width="1" />
<line x1="901.4" y1="471.5" x2="901.4" y2="477.05" stroke="#8a8a8a" stroke-width="0.8" />
<path d="M894.5 474.9 L897.4 472.0 L900.3 474.9 Z" fill="#000"/>
<line x1="892.8" y1="478.05" x2="901.8" y2="478.05" stroke="#f4f4f4" stroke-width="1" />
<line x1="893.1999999999999" y1="477.65000000000003" x2="893.1999999999999" y2="483.20000000000005" stroke="#f4f4f4" stroke-width="1" />
<line x1="901.4" y1="478.05" x2="901.4" y2="483.6" stroke="#8a8a8a" stroke-width="0.8" />
<path d="M894.5 480.25 L897.4 483.15000000000003 L900.3 480.25 Z" fill="#000"/>
<rect x="843.4" y="470.5" width="59" height="13.1" fill="none" stroke="#5c5c5c" stroke-width="1.1" />
<line x1="842.9" y1="470.5" x2="902.9" y2="470.5" stroke="#444" stroke-width="1.2" />
<text x="848.7" y="480.8" font-size="8.9" fill="#000" text-anchor="start" font-family="Liberation Sans" textLength="20.3" lengthAdjust="spacingAndGlyphs" stroke="#000" stroke-width="0.16" xml:space="preserve">0.00</text>
<rect x="793.4" y="486.4" width="22.6" height="11.8" fill="#404040" stroke="none" stroke-width="1" />
<line x1="793.4" y1="498.2" x2="816.0" y2="498.2" stroke="#fff" stroke-width="1" />
<line x1="816.0" y1="486.4" x2="816.0" y2="498.2" stroke="#fff" stroke-width="1" />
<text x="804.6999999999999" y="494.9" font-size="8.6" fill="#909090" text-anchor="middle" font-family="Liberation Sans" textLength="13" lengthAdjust="spacingAndGlyphs" stroke="#909090" stroke-width="0.12" xml:space="preserve">Y/T</text>
<rect x="819.6" y="486.4" width="22.8" height="11.8" fill="#c0c0c0" stroke="none" stroke-width="1" />
<line x1="819.6" y1="486.9" x2="842.4" y2="486.9" stroke="#fff" stroke-width="1" />
<line x1="820.1" y1="486.4" x2="820.1" y2="498.2" stroke="#fff" stroke-width="1" />
<line x1="819.6" y1="497.7" x2="842.4" y2="497.7" stroke="#808080" stroke-width="1" />
<line x1="841.9" y1="486.4" x2="841.9" y2="498.2" stroke="#808080" stroke-width="1" />
<text x="831.0" y="494.9" font-size="8.6" fill="#000" text-anchor="middle" font-family="Liberation Sans" textLength="14.4" lengthAdjust="spacingAndGlyphs" stroke="#000" stroke-width="0.12" xml:space="preserve">B/A</text>
<rect x="845.6" y="486.4" width="23" height="11.8" fill="#c0c0c0" stroke="none" stroke-width="1" />
<line x1="845.6" y1="486.9" x2="868.6" y2="486.9" stroke="#fff" stroke-width="1" />
<line x1="846.1" y1="486.4" x2="846.1" y2="498.2" stroke="#fff" stroke-width="1" />
<line x1="845.6" y1="497.7" x2="868.6" y2="497.7" stroke="#808080" stroke-width="1" />
<line x1="868.1" y1="486.4" x2="868.1" y2="498.2" stroke="#808080" stroke-width="1" />
<text x="857.1" y="494.9" font-size="8.6" fill="#000" text-anchor="middle" font-family="Liberation Sans" textLength="13.7" lengthAdjust="spacingAndGlyphs" stroke="#000" stroke-width="0.12" xml:space="preserve">A/B</text>
<text x="917.5" y="465.8" font-size="8.9" fill="#000" text-anchor="start" font-family="Liberation Sans" textLength="19.8" lengthAdjust="spacingAndGlyphs" stroke="#000" stroke-width="0.16" xml:space="preserve">Edge</text>
<text x="917.5" y="480" font-size="8.9" fill="#000" text-anchor="start" font-family="Liberation Sans" textLength="21.2" lengthAdjust="spacingAndGlyphs" stroke="#000" stroke-width="0.16" xml:space="preserve">Level</text>
<rect x="958.3" y="458.1" width="14.6" height="8.9" fill="#404040" stroke="none" stroke-width="1" />
<line x1="958.3" y1="467.0" x2="972.9" y2="467.0" stroke="#fff" stroke-width="1" />
<line x1="972.9" y1="458.1" x2="972.9" y2="467.0" stroke="#fff" stroke-width="1" />
<rect x="978.3" y="458.1" width="15.5" height="9.2" fill="#c0c0c0" stroke="none" stroke-width="1" />
<line x1="978.3" y1="458.6" x2="993.8" y2="458.6" stroke="#fff" stroke-width="1" />
<line x1="978.8" y1="458.1" x2="978.8" y2="467.3" stroke="#fff" stroke-width="1" />
<line x1="978.3" y1="466.8" x2="993.8" y2="466.8" stroke="#808080" stroke-width="1" />
<line x1="993.3" y1="458.1" x2="993.3" y2="467.3" stroke="#808080" stroke-width="1" />
<path d="M961 465.6 H965.3 V460.7 H969.8 M963.2 463.8 L967.4 462.3" stroke="#a0a0a0" stroke-width="1" fill="none"/>
<path d="M981.2 460.8 H985.7 V465.5 H989.9 M983.4 462 L988.2 464.2" stroke="#000" stroke-width="1.0" fill="none"/>
<rect x="957.4" y="470.5" width="59" height="13.1" fill="#fff" stroke="none" stroke-width="1" />
<rect x="1006.1999999999999" y="470.5" width="10.2" height="13.1" fill="#c0c0c0" stroke="none" stroke-width="1" />
<line x1="1006.1999999999999" y1="470.5" x2="1006.1999999999999" y2="483.6" stroke="#606060" stroke-width="1" />
<line x1="1006.1999999999999" y1="477.05" x2="1016.4" y2="477.05" stroke="#606060" stroke-width="1" />
<line x1="1006.8" y1="471.5" x2="1015.8" y2="471.5" stroke="#f4f4f4" stroke-width="1" />
<line x1="1007.1999999999999" y1="471.1" x2="1007.1999999999999" y2="476.65000000000003" stroke="#f4f4f4" stroke-width="1" />
<line x1="1015.4" y1="471.5" x2="1015.4" y2="477.05" stroke="#8a8a8a" stroke-width="0.8" />
<path d="M1008.5 474.9 L1011.4 472.0 L1014.3 474.9 Z" fill="#000"/>
<line x1="1006.8" y1="478.05" x2="1015.8" y2="478.05" stroke="#f4f4f4" stroke-width="1" />
<line x1="1007.1999999999999" y1="477.65000000000003" x2="1007.1999999999999" y2="483.20000000000005" stroke="#f4f4f4" stroke-width="1" />
<line x1="1015.4" y1="478.05" x2="1015.4" y2="483.6" stroke="#8a8a8a" stroke-width="0.8" />
<path d="M1008.5 480.25 L1011.4 483.15000000000003 L1014.3 480.25 Z" fill="#000"/>
<rect x="957.4" y="470.5" width="59" height="13.1" fill="none" stroke="#5c5c5c" stroke-width="1.1" />
<line x1="956.9" y1="470.5" x2="1016.9" y2="470.5" stroke="#444" stroke-width="1.2" />
<text x="962.7" y="480.8" font-size="8.9" fill="#000" text-anchor="start" font-family="Liberation Sans" textLength="20.3" lengthAdjust="spacingAndGlyphs" stroke="#000" stroke-width="0.16" xml:space="preserve">0.00</text>
<rect x="915.6" y="486.4" width="27.6" height="11.8" fill="#404040" stroke="none" stroke-width="1" />
<line x1="915.6" y1="498.2" x2="943.2" y2="498.2" stroke="#fff" stroke-width="1" />
<line x1="943.2" y1="486.4" x2="943.2" y2="498.2" stroke="#fff" stroke-width="1" />
<text x="929.4" y="494.9" font-size="8.6" fill="#909090" text-anchor="middle" font-family="Liberation Sans" textLength="18.2" lengthAdjust="spacingAndGlyphs" stroke="#909090" stroke-width="0.12" xml:space="preserve">Auto</text>
<rect x="946.8" y="486.4" width="12.8" height="11.8" fill="#c0c0c0" stroke="none" stroke-width="1" />
<line x1="946.8" y1="486.9" x2="959.5999999999999" y2="486.9" stroke="#fff" stroke-width="1" />
<line x1="947.3" y1="486.4" x2="947.3" y2="498.2" stroke="#fff" stroke-width="1" />
<line x1="946.8" y1="497.7" x2="959.5999999999999" y2="497.7" stroke="#808080" stroke-width="1" />
<line x1="959.0999999999999" y1="486.4" x2="959.0999999999999" y2="498.2" stroke="#808080" stroke-width="1" />
<text x="953.1999999999999" y="494.9" font-size="8.6" fill="#000" text-anchor="middle" font-family="Liberation Sans" textLength="5.5" lengthAdjust="spacingAndGlyphs" stroke="#000" stroke-width="0.12" xml:space="preserve">A</text>
<rect x="962.4" y="486.4" width="11.2" height="11.8" fill="#c0c0c0" stroke="none" stroke-width="1" />
<line x1="962.4" y1="486.9" x2="973.6" y2="486.9" stroke="#fff" stroke-width="1" />
<line x1="962.9" y1="486.4" x2="962.9" y2="498.2" stroke="#fff" stroke-width="1" />
<line x1="962.4" y1="497.7" x2="973.6" y2="497.7" stroke="#808080" stroke-width="1" />
<line x1="973.1" y1="486.4" x2="973.1" y2="498.2" stroke="#808080" stroke-width="1" />
<text x="968.0" y="494.9" font-size="8.6" fill="#000" text-anchor="middle" font-family="Liberation Sans" textLength="4.6" lengthAdjust="spacingAndGlyphs" stroke="#000" stroke-width="0.12" xml:space="preserve">B</text>
<rect x="976.4" y="486.4" width="22.4" height="11.8" fill="#c0c0c0" stroke="none" stroke-width="1" />
<line x1="976.4" y1="486.9" x2="998.8" y2="486.9" stroke="#fff" stroke-width="1" />
<line x1="976.9" y1="486.4" x2="976.9" y2="498.2" stroke="#fff" stroke-width="1" />
<line x1="976.4" y1="497.7" x2="998.8" y2="497.7" stroke="#808080" stroke-width="1" />
<line x1="998.3" y1="486.4" x2="998.3" y2="498.2" stroke="#808080" stroke-width="1" />
<text x="987.6" y="494.9" font-size="8.6" fill="#000" text-anchor="middle" font-family="Liberation Sans" textLength="11.8" lengthAdjust="spacingAndGlyphs" stroke="#000" stroke-width="0.12" xml:space="preserve">Ext</text>
<rect x="1033.4" y="455.6" width="109.3" height="13" fill="#fff" stroke="none" stroke-width="1" />
<rect x="1132.5" y="455.6" width="10.2" height="13" fill="#c0c0c0" stroke="none" stroke-width="1" />
<line x1="1132.5" y1="455.6" x2="1132.5" y2="468.6" stroke="#606060" stroke-width="1" />
<line x1="1132.5" y1="462.1" x2="1142.7" y2="462.1" stroke="#606060" stroke-width="1" />
<line x1="1133.1" y1="456.6" x2="1142.1000000000001" y2="456.6" stroke="#f4f4f4" stroke-width="1" />
<line x1="1133.5" y1="456.20000000000005" x2="1133.5" y2="461.70000000000005" stroke="#f4f4f4" stroke-width="1" />
<line x1="1141.7" y1="456.6" x2="1141.7" y2="462.1" stroke="#8a8a8a" stroke-width="0.8" />
<path d="M1134.7999999999997 460.0 L1137.6999999999998 457.1 L1140.6 460.0 Z" fill="#000"/>
<line x1="1133.1" y1="463.1" x2="1142.1000000000001" y2="463.1" stroke="#f4f4f4" stroke-width="1" />
<line x1="1133.5" y1="462.70000000000005" x2="1133.5" y2="468.20000000000005" stroke="#f4f4f4" stroke-width="1" />
<line x1="1141.7" y1="463.1" x2="1141.7" y2="468.6" stroke="#8a8a8a" stroke-width="0.8" />
<path d="M1134.7999999999997 465.3 L1137.6999999999998 468.20000000000005 L1140.6 465.3 Z" fill="#000"/>
<rect x="1033.4" y="455.6" width="109.3" height="13" fill="none" stroke="#5c5c5c" stroke-width="1.1" />
<line x1="1032.9" y1="455.6" x2="1143.2" y2="455.6" stroke="#444" stroke-width="1.2" />
<text x="1039" y="465.6" font-size="8.9" fill="#000" text-anchor="start" font-family="Liberation Sans" textLength="45.5" lengthAdjust="spacingAndGlyphs" stroke="#000" stroke-width="0.16" xml:space="preserve">20 V/Div</text>
<text x="1038.2" y="480" font-size="8.9" fill="#000" text-anchor="start" font-family="Liberation Sans" textLength="40" lengthAdjust="spacingAndGlyphs" stroke="#000" stroke-width="0.16" xml:space="preserve">Y position</text>
<rect x="1083.2" y="470.5" width="59.5" height="13.1" fill="#fff" stroke="none" stroke-width="1" />
<rect x="1132.5" y="470.5" width="10.2" height="13.1" fill="#c0c0c0" stroke="none" stroke-width="1" />
<line x1="1132.5" y1="470.5" x2="1132.5" y2="483.6" stroke="#606060" stroke-width="1" />
<line x1="1132.5" y1="477.05" x2="1142.7" y2="477.05" stroke="#606060" stroke-width="1" />
<line x1="1133.1" y1="471.5" x2="1142.1000000000001" y2="471.5" stroke="#f4f4f4" stroke-width="1" />
<line x1="1133.5" y1="471.1" x2="1133.5" y2="476.65000000000003" stroke="#f4f4f4" stroke-width="1" />
<line x1="1141.7" y1="471.5" x2="1141.7" y2="477.05" stroke="#8a8a8a" stroke-width="0.8" />
<path d="M1134.7999999999997 474.9 L1137.6999999999998 472.0 L1140.6 474.9 Z" fill="#000"/>
<line x1="1133.1" y1="478.05" x2="1142.1000000000001" y2="478.05" stroke="#f4f4f4" stroke-width="1" />
<line x1="1133.5" y1="477.65000000000003" x2="1133.5" y2="483.20000000000005" stroke="#f4f4f4" stroke-width="1" />
<line x1="1141.7" y1="478.05" x2="1141.7" y2="483.6" stroke="#8a8a8a" stroke-width="0.8" />
<path d="M1134.7999999999997 480.25 L1137.6999999999998 483.15000000000003 L1140.6 480.25 Z" fill="#000"/>
<rect x="1083.2" y="470.5" width="59.5" height="13.1" fill="none" stroke="#5c5c5c" stroke-width="1.1" />
<line x1="1082.7" y1="470.5" x2="1143.2" y2="470.5" stroke="#444" stroke-width="1.2" />
<text x="1089" y="480.8" font-size="8.9" fill="#000" text-anchor="start" font-family="Liberation Sans" textLength="20.3" lengthAdjust="spacingAndGlyphs" stroke="#000" stroke-width="0.16" xml:space="preserve">0.00</text>
<rect x="1036.4" y="486.4" width="19.2" height="11.8" fill="#c0c0c0" stroke="none" stroke-width="1" />
<line x1="1036.4" y1="486.9" x2="1055.6000000000001" y2="486.9" stroke="#fff" stroke-width="1" />
<line x1="1036.9" y1="486.4" x2="1036.9" y2="498.2" stroke="#fff" stroke-width="1" />
<line x1="1036.4" y1="497.7" x2="1055.6000000000001" y2="497.7" stroke="#808080" stroke-width="1" />
<line x1="1055.1000000000001" y1="486.4" x2="1055.1000000000001" y2="498.2" stroke="#808080" stroke-width="1" />
<text x="1046.0" y="494.9" font-size="8.6" fill="#000" text-anchor="middle" font-family="Liberation Sans" textLength="11.9" lengthAdjust="spacingAndGlyphs" stroke="#000" stroke-width="0.12" xml:space="preserve">AC</text>
<rect x="1058.6" y="486.4" width="11" height="11.8" fill="#c0c0c0" stroke="none" stroke-width="1" />
<line x1="1058.6" y1="486.9" x2="1069.6" y2="486.9" stroke="#fff" stroke-width="1" />
<line x1="1059.1" y1="486.4" x2="1059.1" y2="498.2" stroke="#fff" stroke-width="1" />
<line x1="1058.6" y1="497.7" x2="1069.6" y2="497.7" stroke="#808080" stroke-width="1" />
<line x1="1069.1" y1="486.4" x2="1069.1" y2="498.2" stroke="#808080" stroke-width="1" />
<text x="1064.1" y="494.9" font-size="8.6" fill="#000" text-anchor="middle" font-family="Liberation Sans" textLength="4.6" lengthAdjust="spacingAndGlyphs" stroke="#000" stroke-width="0.12" xml:space="preserve">0</text>
<rect x="1072.2" y="486.4" width="19.2" height="11.8" fill="#404040" stroke="none" stroke-width="1" />
<line x1="1072.2" y1="498.2" x2="1091.4" y2="498.2" stroke="#fff" stroke-width="1" />
<line x1="1091.4" y1="486.4" x2="1091.4" y2="498.2" stroke="#fff" stroke-width="1" />
<text x="1081.8" y="494.9" font-size="8.6" fill="#909090" text-anchor="middle" font-family="Liberation Sans" textLength="12.7" lengthAdjust="spacingAndGlyphs" stroke="#909090" stroke-width="0.12" xml:space="preserve">DC</text>
<rect x="1153.8" y="455.6" width="109.3" height="13" fill="#fff" stroke="none" stroke-width="1" />
<rect x="1153.8" y="455.6" width="109.3" height="13" fill="none" stroke="#5c5c5c" stroke-width="1.1" />
<line x1="1153.3" y1="455.6" x2="1263.6" y2="455.6" stroke="#444" stroke-width="1.2" />
<text x="1161.8" y="465.6" font-size="8.9" fill="#000" text-anchor="start" font-family="Liberation Sans" textLength="40" lengthAdjust="spacingAndGlyphs" stroke="#000" stroke-width="0.16" xml:space="preserve">5 V/Div</text>
<text x="1157.4" y="480" font-size="8.9" fill="#000" text-anchor="start" font-family="Liberation Sans" textLength="40" lengthAdjust="spacingAndGlyphs" stroke="#000" stroke-width="0.16" xml:space="preserve">Y position</text>
<rect x="1155" y="486.4" width="19.4" height="11.8" fill="#c0c0c0" stroke="none" stroke-width="1" />
<line x1="1155" y1="486.9" x2="1174.4" y2="486.9" stroke="#fff" stroke-width="1" />
<line x1="1155.5" y1="486.4" x2="1155.5" y2="498.2" stroke="#fff" stroke-width="1" />
<line x1="1155" y1="497.7" x2="1174.4" y2="497.7" stroke="#808080" stroke-width="1" />
<line x1="1173.9" y1="486.4" x2="1173.9" y2="498.2" stroke="#808080" stroke-width="1" />
<text x="1164.7" y="494.9" font-size="8.6" fill="#000" text-anchor="middle" font-family="Liberation Sans" textLength="11.9" lengthAdjust="spacingAndGlyphs" stroke="#000" stroke-width="0.12" xml:space="preserve">AC</text>
</svg>
</body></html>
